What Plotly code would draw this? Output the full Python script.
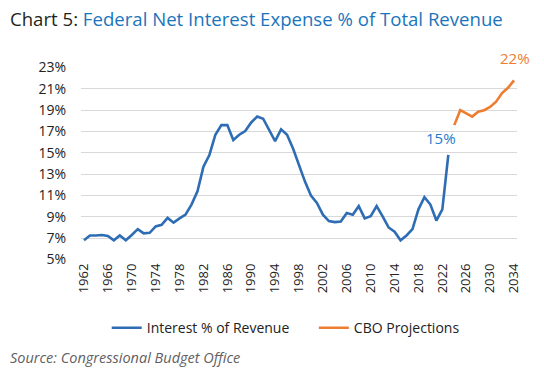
import plotly.graph_objects as go

hist_years = list(range(1962, 2024))
hist_values = [6.8, 7.25, 7.25, 7.3, 7.2, 6.8, 7.25, 6.8, 7.3, 7.85,
               7.45, 7.5, 8.1, 8.25, 8.9, 8.45, 8.85, 9.2, 10.15, 11.4,
               13.7, 14.8, 16.7, 17.6, 17.6, 16.2, 16.7, 17.05, 17.85, 18.4,
               18.2, 17.2, 16.1, 17.2, 16.7, 15.4, 13.9, 12.3, 11.0, 10.3,
               9.2, 8.6, 8.5, 8.55, 9.35, 9.2, 10.0, 8.85, 9.05, 10.0,
               9.05, 8.0, 7.6, 6.8, 7.25, 7.85, 9.7, 10.85, 10.15, 8.65,
               9.7, 14.8]
proj_years = list(range(2024, 2035))
proj_values = [17.6, 19.0, 18.7, 18.4, 18.85, 19.0, 19.3, 19.8, 20.6, 21.1, 21.8]

x_ticks = list(range(1962, 2035, 4))
y_ticks = list(range(5, 24, 2))
y_labels = [f"{v}%" for v in y_ticks]

BLUE = "#2e6db4"
ORANGE = "#ed7d31"
FONT = "Open Sans"

fig = go.Figure()
fig.add_trace(go.Scatter(x=hist_years, y=hist_values, mode="lines",
                         line=dict(color=BLUE, width=2.6),
                         name="Interest % of Revenue", legend="legend"))
fig.add_trace(go.Scatter(x=proj_years, y=proj_values, mode="lines",
                         line=dict(color=ORANGE, width=2.6),
                         name="CBO Projections", legend="legend2"))

fig.add_annotation(x=hist_years[-1], y=hist_values[-1], text="15%",
                   showarrow=False, xanchor="right", yanchor="bottom",
                   xshift=10, yshift=5,
                   font=dict(family=FONT, size=15, color="#1f7bcc"))
fig.add_annotation(x=proj_years[-1], y=proj_values[-1], text="22%",
                   showarrow=False, xanchor="center", yanchor="bottom",
                   xshift=1, yshift=10,
                   font=dict(family=FONT, size=15, color=ORANGE))

fig.add_annotation(xref="paper", yref="paper", x=-0.167, y=1.0,
                   xanchor="left", yanchor="bottom", yshift=34,
                   showarrow=False,
                   text="<span style='color:#231f20'>Chart 5: </span>"
                        "<span style='color:#1b75bc'>Federal Net Interest Expense % of Total Revenue</span>",
                   font=dict(family=FONT, size=18.6))
fig.add_annotation(xref="paper", yref="paper", x=-0.167, y=0,
                   xanchor="left", yanchor="top", yshift=-86,
                   showarrow=False,
                   text="<i>Source: Congressional Budget Office</i>",
                   font=dict(family=FONT, size=14.5, color="#5f6062"))

legend_style = dict(orientation="h", yanchor="top", y=-0.27, xanchor="left",
                    font=dict(family=FONT, size=14, color="#222222"),
                    itemwidth=30, bgcolor="rgba(0,0,0,0)")

fig.update_layout(
    width=544, height=380,
    margin=dict(l=81, r=27, t=67, b=120),
    paper_bgcolor="white", plot_bgcolor="white",
    font=dict(family=FONT, size=13, color="#222222"),
    showlegend=True,
    legend=dict(legend_style, x=0.059),
    legend2=dict(legend_style, x=0.534),
    xaxis=dict(range=[1961.5, 2034.5], tickvals=x_ticks, tickangle=-90,
               showgrid=False, zeroline=False, showline=False, ticks="",
               tickfont=dict(size=13)),
    yaxis=dict(range=[4.95, 23.05], tickvals=y_ticks, ticktext=y_labels,
               showgrid=True, gridcolor="#d9d9d9", gridwidth=1.3,
               zeroline=False, showline=False, ticks="",
               tickfont=dict(size=14), ticklabelstandoff=14),
)

fig.write_html("out.html", config={"displayModeBar": False},
               post_script="document.body.style.margin='0';")
